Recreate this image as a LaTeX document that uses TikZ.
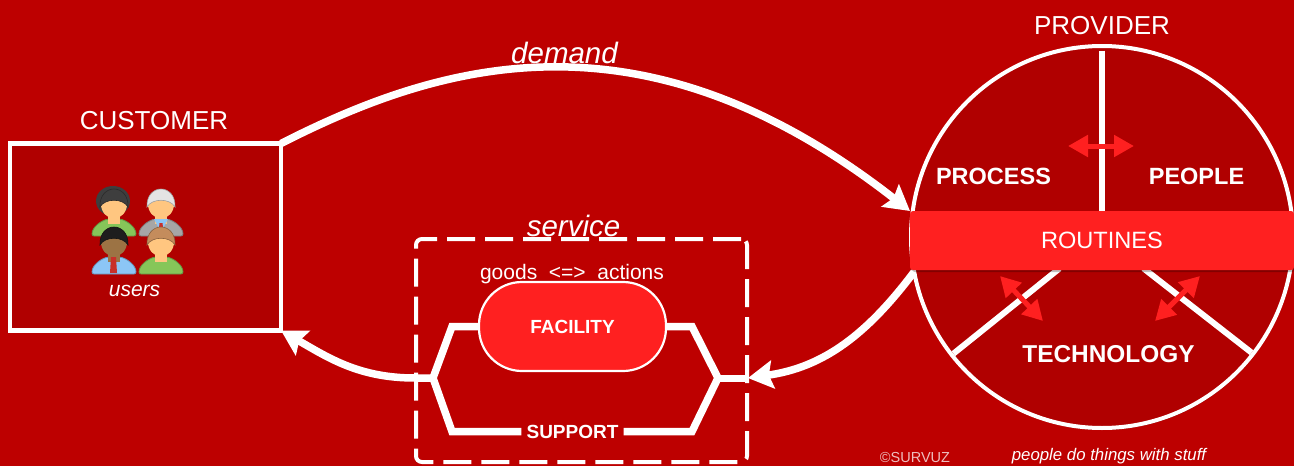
\documentclass[tikz,border=0pt]{standalone}
\usepackage{fontspec}
\setmainfont{Liberation Sans}
\usetikzlibrary{arrows.meta,shadows}
\definecolor{bgred}{HTML}{BD0000}
\definecolor{darkred}{HTML}{B00000}
\definecolor{brightred}{HTML}{FF2020}
\definecolor{skinA}{HTML}{FFC680}
\definecolor{skinB}{HTML}{9C7344}
\definecolor{shirtgreen}{HTML}{86C659}
\definecolor{shirtgrey}{HTML}{A6A6A6}
\definecolor{shirtblue}{HTML}{8CC6F6}
\definecolor{hairdark}{HTML}{3E3E3E}
\definecolor{hairblack}{HTML}{1E1E1E}
\definecolor{hairwhite}{HTML}{E4E4E4}
\definecolor{hairtan}{HTML}{C48C5C}
\definecolor{tiered}{HTML}{C8302A}
\tikzset{
  headlabel/.style={text=white,inner sep=0pt,font=\fontsize{26}{28}\selectfont},
  partlabel/.style={text=white,inner sep=0pt,font=\fontsize{23.5}{26}\selectfont\bfseries},
  smalllabel/.style={text=white,inner sep=0pt,font=\fontsize{19}{22}\selectfont\bfseries},
  slantlabel/.style={text=white,inner sep=0pt,font=\fontsize{29.5}{32}\selectfont\itshape},
  flow/.style={draw=white,line width=7.5pt,-{Stealth[length=25pt,width=28pt,inset=4pt]}},
  rail/.style={draw=white,line width=7.5pt},
  divider/.style={draw=white,line width=6pt},
  endpoint/.style={inner sep=0pt,outer sep=0pt},
  softshadow/.style={drop shadow={shadow xshift=1pt,shadow yshift=-2pt,opacity=0.25,fill=black}},
  swap/.style={draw=brightred,line width=5pt,{Triangle[length=20pt,width=21pt]}-{Triangle[length=20pt,width=21pt]}}
}
\newcommand{\drawperson}[5]{
  \begin{scope}[shift={(#1,#2)}]
    \draw[fill=#3,draw=#3!75!black,line width=0.8pt,rounded corners=2pt] (-22,0) .. controls (-22,-9) and (-13,-15) .. (-6,-17) -- (6,-17) .. controls (13,-15) and (22,-9) .. (22,0) -- cycle;
    \fill[#4] (-6,-24) rectangle (6,-12);
    \fill[#4] (0,-32) ellipse (13 and 14.5);
    \draw[fill=#5,draw=#5!70!black,line width=0.6pt] (-14,-29) .. controls (-15,-53) and (15,-53) .. (14,-29) .. controls (9,-38) and (-9,-38) .. cycle;
  \end{scope}
}
\begin{document}
\begin{tikzpicture}[x=1pt,y=-1pt]
\useasboundingbox (0,0) rectangle (1294,466);
\fill[bgred] (0,0) rectangle (1294,466);

\node[draw=white,line width=4.5pt,fill=darkred,inner sep=0pt,outer sep=0pt,minimum width=271pt,minimum height=187pt] (customer) at (145.5,237) {};
\node[headlabel] (customerlabel) at (154,121) {CUSTOMER};
\node[text=white,inner sep=0pt,font=\fontsize{21}{24}\selectfont\itshape] (users) at (134.5,291) {users};

\fill[hairdark] (113,201) ellipse (17 and 15);
\drawperson{114}{236}{shirtgreen}{skinA}{hairdark}
\drawperson{161}{236}{shirtgrey}{skinA}{hairwhite}
\fill[shirtblue] (154,219) -- (168,219) -- (161,232) -- cycle;
\fill[tiered] (159.5,223) -- (162.5,223) -- (163,228) -- (159,228) -- cycle;
\drawperson{114}{274}{shirtblue}{skinB}{hairblack}
\fill[tiered] (111,257) -- (116,257) -- (117,273) -- (110,273) -- cycle;
\drawperson{161}{274}{shirtgreen}{skinA}{hairtan}

\node[draw=white,line width=4pt,fill=darkred,circle,inner sep=0pt,outer sep=0pt,minimum size=382pt,softshadow] (provider) at (1102,237) {};
\node[headlabel] (providerlabel) at (1102,26) {PROVIDER};
\node[endpoint] (topend) at (1101.5,50) {};
\node[endpoint] (leftend) at (953,354) {};
\node[endpoint] (rightend) at (1252,353) {};
\node[endpoint] (leftroot) at (1060,268) {};
\node[endpoint] (rightroot) at (1143,268) {};
\node[endpoint] (midroot) at (1101.5,213) {};
\draw[divider] (topend) -- (midroot);
\draw[divider] (leftroot) -- (leftend);
\draw[divider] (rightroot) -- (rightend);
\node[fill=brightred,rounded corners=3pt,inner sep=0pt,outer sep=0pt,minimum width=384pt,minimum height=59pt,text=white,font=\fontsize{23.6}{26}\selectfont,softshadow] (routines) at (1102,240.5) {ROUTINES};
\node[partlabel] (process) at (993.5,176.5) {PROCESS};
\node[partlabel] (people) at (1196.5,176.5) {PEOPLE};
\node[partlabel,font=\fontsize{24.4}{26}\selectfont\bfseries] (technology) at (1108.5,354.5) {TECHNOLOGY};

\coordinate (swapAl) at (1068,146);
\coordinate (swapAr) at (1134,146);
\coordinate (swapBl) at (1000,276);
\coordinate (swapBr) at (1043,321);
\coordinate (swapCl) at (1200,276);
\coordinate (swapCr) at (1155,321);
\draw[swap] (swapAl) -- (swapAr);
\draw[swap] (swapBl) -- (swapBr);
\draw[swap] (swapCl) -- (swapCr);

\node[draw=white,line width=4pt,dash pattern=on 28pt off 10pt,rounded corners=6pt,inner sep=0pt,outer sep=0pt,minimum width=331pt,minimum height=223pt] (servicebox) at (581.5,350.5) {};
\node[slantlabel] (service) at (573.5,226) {service};
\node[text=white,inner sep=0pt,font=\fontsize{21}{23}\selectfont] (goods) at (572,274) {goods\ \ <=>\ \ actions};
\node[draw=white,line width=2.2pt,fill=brightred,rounded corners=43pt,inner sep=0pt,outer sep=0pt,minimum width=187pt,minimum height=89pt] (facility) at (572.5,326.5) {};
\node[smalllabel] (facilitylabel) at (572.5,327) {FACILITY};
\node[smalllabel,inner xsep=5pt,minimum height=7pt] (support) at (572.5,431.5) {SUPPORT};
\coordinate (joinL) at (433,378);
\coordinate (joinR) at (718,378);
\coordinate (serviceout) at (748,378);
\coordinate (routinesout) at (914,272);
\draw[rail] (facility.west) -- (452,326.5) -- (joinL) -- (452,431.5) -- (support.west);
\draw[rail] (facility.east) -- (692,326.5) -- (joinR) -- (692,431.5) -- (support.east);

\node[slantlabel] (demand) at (564.5,53) {demand};
\draw[flow] (customer.north east) to[out=27,in=142,out looseness=0.73,in looseness=1.37] (routines.north west);
\draw[flow] (routinesout) to[out=-127,in=8] (serviceout);
\draw[draw=white,line width=7pt] (joinR) -- (serviceout);
\draw[flow] (joinL) -- (415,378) to[out=180,in=-30] (customer.south east);

\node[text=white,inner sep=0pt,font=\fontsize{16.8}{19}\selectfont\itshape] (motto) at (1109,456) {people do things with stuff};
\node[text=white!75!bgred,inner sep=0pt,font=\fontsize{14.5}{16}\selectfont] (credit) at (915,458) {©SURVUZ};
\end{tikzpicture}
\end{document}
